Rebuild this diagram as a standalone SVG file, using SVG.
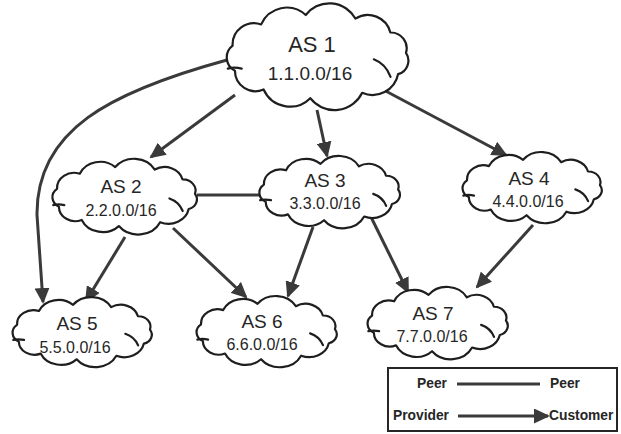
<svg xmlns="http://www.w3.org/2000/svg" xmlns:xlink="http://www.w3.org/1999/xlink" width="621" height="434" viewBox="0 0 621 434">
<style>
.cl{fill:#fff;stroke:#1e1e1e;stroke-width:2.2;vector-effect:non-scaling-stroke;stroke-linejoin:round}
.curl{fill:none;stroke:#1e1e1e;stroke-width:2.2;vector-effect:non-scaling-stroke;stroke-linecap:round}
.t1{font-family:"Liberation Sans",Arial,sans-serif;fill:#262626;text-anchor:middle}
.e{fill:none;stroke:#3a3a3a;stroke-width:3}
.lg{font-family:"Liberation Sans",Arial,sans-serif;font-weight:bold;font-size:13.8px;fill:#262626}
</style>
<defs>
<marker id="ah" markerUnits="userSpaceOnUse" markerWidth="16" markerHeight="15" refX="14" refY="7.5" orient="auto">
<path d="M0,0 L16,7.5 L0,15 z" fill="#3a3a3a"/>
</marker>
<g id="cloud">
<path class="cl" d="M -89.3 15.4 A 16 16 0 0 1 -91.8 -11.6 A 23 23 0 0 1 -61.1 -34.5 A 30 30 0 0 1 -13.2 -44.6 A 32 32 0 0 1 40.2 -40.8 A 25 25 0 0 1 77.8 -25.8 A 17 17 0 0 1 94.6 -3.9 A 15 15 0 0 1 86.1 19.0 A 28 28 0 0 1 47.5 39.0 A 33 33 0 0 1 -8.3 44.8 A 31 31 0 0 1 -58.5 35.5 A 22 22 0 0 1 -89.3 15.4 Z"/>
<path class="curl" d="M -97 13 Q -90 11 -82 13"/>
<path class="curl" d="M 60 3 Q 73 8 78 22"/>
</g>
</defs>
<g id="connectors">
<path class="e" d="M 227 60 C 110 92, 36 130, 37 215 L 43 302" marker-end="url(#ah)"/>
<line class="e" x1="235" y1="95" x2="151" y2="157" marker-end="url(#ah)"/>
<line class="e" x1="317" y1="110" x2="327" y2="156" marker-end="url(#ah)"/>
<line class="e" x1="380" y1="88" x2="506" y2="155" marker-end="url(#ah)"/>
<line class="e" x1="197" y1="195" x2="262" y2="195"/>
<line class="e" x1="125" y1="237" x2="86" y2="301" marker-end="url(#ah)"/>
<line class="e" x1="173" y1="228" x2="246" y2="297" marker-end="url(#ah)"/>
<line class="e" x1="313" y1="227" x2="288" y2="296" marker-end="url(#ah)"/>
<line class="e" x1="370" y1="215" x2="408" y2="292" marker-end="url(#ah)"/>
<line class="e" x1="533" y1="225" x2="477" y2="287" marker-end="url(#ah)"/>
</g>
<g id="as1">
<use xlink:href="#cloud" href="#cloud" transform="translate(318,56.5) scale(0.93,0.93)"/>
<text class="t1" x="312" y="52" font-size="22">AS 1</text>
<text class="t1" x="310" y="80" font-size="19">1.1.0.0/16</text>
</g>
<g id="as2">
<use xlink:href="#cloud" href="#cloud" transform="translate(125,196.5) scale(0.74,0.66)"/>
<text class="t1" x="121" y="193" font-size="19">AS 2</text>
<text class="t1" x="121" y="216" font-size="16">2.2.0.0/16</text>
</g>
<g id="as3">
<use xlink:href="#cloud" href="#cloud" transform="translate(330,192) scale(0.72,0.63)"/>
<text class="t1" x="325" y="187" font-size="19">AS 3</text>
<text class="t1" x="325" y="209" font-size="16">3.3.0.0/16</text>
</g>
<g id="as4">
<use xlink:href="#cloud" href="#cloud" transform="translate(532.5,187.5) scale(0.713,0.62)"/>
<text class="t1" x="529" y="185" font-size="19">AS 4</text>
<text class="t1" x="528" y="207" font-size="16">4.4.0.0/16</text>
</g>
<g id="as5">
<use xlink:href="#cloud" href="#cloud" transform="translate(82.5,332) scale(0.713,0.61)"/>
<text class="t1" x="77" y="330" font-size="19">AS 5</text>
<text class="t1" x="75" y="353" font-size="16">5.5.0.0/16</text>
</g>
<g id="as6">
<use xlink:href="#cloud" href="#cloud" transform="translate(267,331.5) scale(0.718,0.62)"/>
<text class="t1" x="262" y="328" font-size="19">AS 6</text>
<text class="t1" x="262" y="350" font-size="16">6.6.0.0/16</text>
</g>
<g id="as7">
<use xlink:href="#cloud" href="#cloud" transform="translate(438,323) scale(0.718,0.63)"/>
<text class="t1" x="433" y="320" font-size="19">AS 7</text>
<text class="t1" x="432" y="342" font-size="16">7.7.0.0/16</text>
</g>
<g id="legend">
<rect x="388" y="368" width="229" height="63" fill="#fff" stroke="#262626" stroke-width="2"/>
<text class="lg" x="417" y="388">Peer</text>
<line class="e" x1="457" y1="384" x2="540" y2="384"/>
<text class="lg" x="550" y="388">Peer</text>
<text class="lg" x="393" y="420">Provider</text>
<line class="e" x1="458" y1="416" x2="548" y2="416" marker-end="url(#ah)"/>
<text class="lg" x="549" y="420">Customer</text>
</g>
</svg>
